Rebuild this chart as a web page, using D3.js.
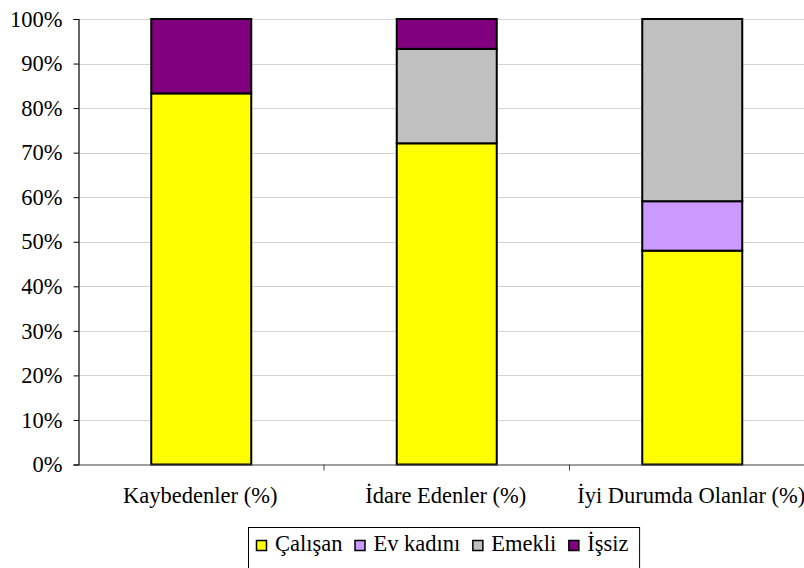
<!DOCTYPE html>
<html>
<head>
<meta charset="utf-8">
<script src="https://cdn.jsdelivr.net/npm/d3@7"></script>
<style>
  body { margin: 0; background: #fff; }
</style>
</head>
<body>
<div id="chart"></div>
<script>
// groups on the x axis
const categories = ["Kaybedenler (%)", "İdare Edenler (%)", "İyi Durumda Olanlar (%)"];
// series, bottom to top
const seriesNames = ["Çalışan", "Ev kadını", "Emekli", "İşsiz"];
const calisan  = [83.3, 72.1, 48.0];
const evKadini = [0, 0, 11.1];
const emekli   = [0, 21.2, 40.9];
const issiz    = [16.7, 6.7, 0];
const colors = ["#ffff00", "#cc99ff", "#c0c0c0", "#800080"];
const yTicks = [0, 10, 20, 30, 40, 50, 60, 70, 80, 90, 100];

const width = 804, height = 568;
const margin = {top: 19, left: 78.5, bottom: 464.5};
const plotRight = 815;
const FONT = "Liberation Serif";
const FS = 22.5;

const rows = categories.map((c, i) => ({
  cat: c,
  "Çalışan": calisan[i],
  "Ev kadını": evKadini[i],
  "Emekli": emekli[i],
  "İşsiz": issiz[i]
}));
const stacked = d3.stack().keys(seriesNames)(rows);

const svg = d3.select("#chart").append("svg")
    .attr("width", width)
    .attr("height", height);

const x = d3.scaleBand()
    .domain(categories)
    .range([margin.left, plotRight])
    .paddingInner(0)
    .paddingOuter(0);

const y = d3.scaleLinear()
    .domain([0, 100])
    .range([margin.bottom, margin.top]);

// gridlines
svg.append("g")
  .selectAll("line")
  .data(yTicks.slice(1))
  .enter().append("line")
    .attr("x1", margin.left).attr("x2", plotRight)
    .attr("y1", d => Math.round(y(d)) + 0.5)
    .attr("y2", d => Math.round(y(d)) + 0.5)
    .attr("stroke", "#d4d4d4")
    .attr("stroke-width", 1);

// bars
const barW = 100;
svg.append("g")
  .selectAll("g")
  .data(stacked)
  .enter().append("g")
    .attr("fill", (d, i) => colors[i])
  .selectAll("rect")
  .data(d => d.filter(s => s[1] - s[0] > 0))
  .enter().append("rect")
    .attr("x", d => x(d.data.cat) + x.bandwidth() / 2 - barW / 2)
    .attr("y", d => y(d[1]))
    .attr("width", barW)
    .attr("height", d => y(d[0]) - y(d[1]))
    .attr("stroke", "#000")
    .attr("stroke-width", 2);

// y axis
const yAxis = d3.axisLeft(y)
    .tickValues(yTicks)
    .tickFormat(d => d + "%")
    .tickSize(5)
    .tickPadding(11);

const yg = svg.append("g")
    .attr("transform", `translate(${margin.left},0)`)
    .call(yAxis);
yg.select(".domain").attr("stroke", "#000").attr("stroke-width", 1.2);
yg.selectAll(".tick line").attr("stroke", "#000");
yg.selectAll("text")
    .attr("fill", "#000")
    .attr("font-family", FONT)
    .attr("font-size", FS);

// x axis
const xAxis = d3.axisBottom(x)
    .tickValues([])
    .tickSizeOuter(0);
const xg = svg.append("g")
    .attr("transform", `translate(0,${margin.bottom})`)
    .call(xAxis);
xg.select(".domain").attr("stroke", "#404040").attr("stroke-width", 1.2);

// category separators (ticks between bands)
xg.selectAll(".sep")
  .data(categories.slice(1))
  .enter().append("line")
    .attr("x1", d => x(d)).attr("x2", d => x(d))
    .attr("y1", 0).attr("y2", 6)
    .attr("stroke", "#404040");

// category labels
svg.append("g")
  .selectAll("text")
  .data(categories)
  .enter().append("text")
    .attr("x", d => x(d) + x.bandwidth() / 2 - 1)
    .attr("y", 503)
    .attr("text-anchor", "middle")
    .attr("font-family", FONT)
    .attr("font-size", FS)
    .text(d => d);

// legend
const legend = svg.append("g");
const legendBox = legend.append("rect")
    .attr("fill", "#fff")
    .attr("stroke", "#000")
    .attr("stroke-width", 1);

let lx = 256;
let textEnd = lx;
const ly = 551;
seriesNames.forEach((name, i) => {
  legend.append("rect")
      .attr("x", lx + 0.5)
      .attr("y", ly - 10.5)
      .attr("width", 10)
      .attr("height", 10)
      .attr("fill", colors[i])
      .attr("stroke", "#000")
      .attr("stroke-width", 1.5);
  const t = legend.append("text")
      .attr("x", lx + 19)
      .attr("y", ly)
      .attr("font-family", FONT)
      .attr("font-size", FS)
      .text(name);
  textEnd = lx + 19 + t.node().getComputedTextLength();
  lx = textEnd + 12;
});
legendBox
    .attr("x", 248.5)
    .attr("y", 527.5)
    .attr("width", textEnd + 11 - 248.5)
    .attr("height", 42);
</script>
</body>
</html>
